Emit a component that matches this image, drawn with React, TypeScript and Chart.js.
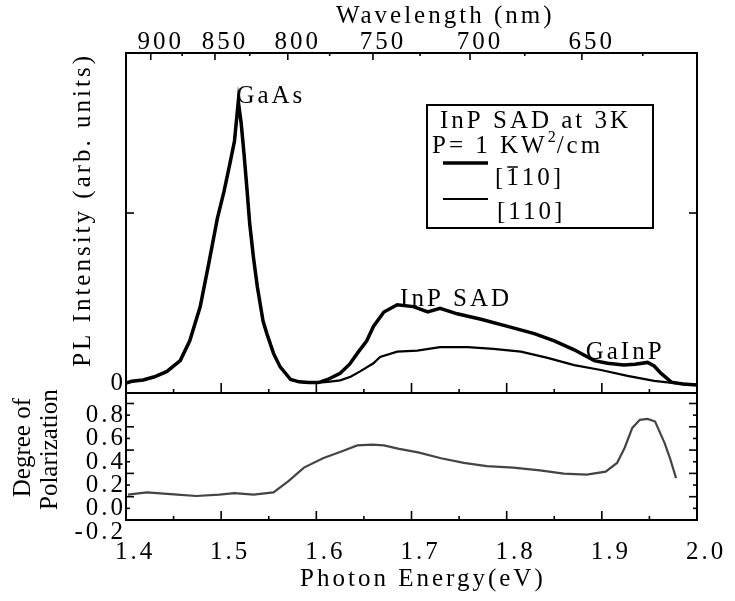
import React, { useEffect, useRef } from 'react';
import { Chart, registerables } from 'chart.js';

Chart.register(...registerables);

const FONT = '"Liberation Serif", "Times New Roman", serif';

// ---- PL spectra (photon energy in eV, intensity in arb. units) ----
// low-energy part common to both polarizations
const sharedEnergy = [1.400, 1.406, 1.418, 1.430, 1.443, 1.457, 1.467, 1.478, 1.487, 1.496, 1.503, 1.509, 1.514, 1.518, 1.521, 1.524, 1.527, 1.530, 1.534, 1.538, 1.544, 1.548, 1.555, 1.562, 1.573, 1.582, 1.592, 1.602];
const sharedIntensity = [0.055, 0.065, 0.072, 0.09, 0.12, 0.18, 0.29, 0.48, 0.72, 0.97, 1.12, 1.27, 1.40, 1.62, 1.50, 1.33, 1.14, 0.94, 0.75, 0.59, 0.40, 0.33, 0.22, 0.145, 0.075, 0.062, 0.058, 0.058];

// [-110] polarization (upper curve)
const barEnergy = [1.612, 1.625, 1.635, 1.643, 1.653, 1.660, 1.671, 1.685, 1.702, 1.717, 1.730, 1.748, 1.773, 1.801, 1.829, 1.850, 1.871, 1.892, 1.906, 1.923, 1.935, 1.948, 1.955, 1.962, 1.973, 1.985, 2.0];
const barIntensity = [0.075, 0.11, 0.16, 0.22, 0.29, 0.37, 0.45, 0.49, 0.48, 0.45, 0.47, 0.44, 0.41, 0.37, 0.33, 0.29, 0.24, 0.18, 0.165, 0.155, 0.16, 0.17, 0.15, 0.11, 0.06, 0.05, 0.045];

// [110] polarization (lower curve)
const parEnergy = [1.612, 1.625, 1.636, 1.646, 1.660, 1.667, 1.685, 1.706, 1.730, 1.759, 1.786, 1.815, 1.843, 1.871, 1.899, 1.927, 1.955, 1.976, 2.0];
const parIntensity = [0.062, 0.07, 0.09, 0.12, 0.165, 0.20, 0.23, 0.235, 0.255, 0.255, 0.245, 0.23, 0.195, 0.155, 0.128, 0.095, 0.067, 0.055, 0.045];

// ---- degree of polarization ----
const polEnergy = [1.402, 1.422, 1.454, 1.474, 1.498, 1.514, 1.534, 1.555, 1.571, 1.587, 1.607, 1.627, 1.643, 1.659, 1.671, 1.687, 1.707, 1.731, 1.755, 1.779, 1.807, 1.835, 1.860, 1.884, 1.904, 1.916, 1.924, 1.932, 1.940, 1.948, 1.956, 1.966, 1.972, 1.978];
const polValue = [0.017, 0.037, 0.017, 0.006, 0.017, 0.03, 0.017, 0.037, 0.136, 0.25, 0.33, 0.39, 0.44, 0.447, 0.44, 0.41, 0.38, 0.33, 0.29, 0.263, 0.25, 0.226, 0.198, 0.19, 0.215, 0.29, 0.42, 0.59, 0.66, 0.667, 0.645, 0.46, 0.32, 0.16];

// ---- axes ----
const energyTicks = [1.4, 1.5, 1.6, 1.7, 1.8, 1.9, 2.0];
const energyMinorTicks = [1.45, 1.55, 1.65, 1.75, 1.85, 1.95];
const wavelengthLabels = ['900', '850', '800', '750', '700', '650'];
const wavelengthTickEnergies = [1.426, 1.4935, 1.570, 1.6595, 1.7615, 1.879];
const wavelengthMinorTickEnergies = [1.459, 1.530, 1.614, 1.709, 1.819, 1.943];
const plTicks = [0, 1];
const polTicks = [-0.2, 0, 0.2, 0.4, 0.6, 0.8];
const polMinorTicks = [-0.1, 0.1, 0.3, 0.5, 0.7];

// ---- annotations ----
const peakNames = ['GaAs', 'InP SAD', 'GaInP'];
const peakNameEnergy = [1.516, 1.688, 1.883];
const peakNameIntensity = [1.65, 0.52, 0.228];

const toPoints = (xs: number[], ys: number[]) => xs.map((x, i) => ({ x, y: ys[i] }));

const sciPlugin = {
  id: 'sciFrame',
  beforeLayout(chart: any) {
    (chart.ctx as any).letterSpacing = '3px';
  },
  beforeDraw(chart: any) {
    (chart.ctx as any).letterSpacing = '3px';
  },
  afterDraw(chart: any) {
    const ctx = chart.ctx as any;
    const xs = chart.scales.x;
    const x2 = chart.scales.x2;
    const yPL = chart.scales.yPL;
    const yPol = chart.scales.yPol;
    const L = chart.chartArea.left;
    const R = chart.chartArea.right;
    ctx.save();
    ctx.letterSpacing = '3px';
    ctx.strokeStyle = '#000';
    ctx.fillStyle = '#000';
    const seg = (a: number, b: number, c: number, d: number, w = 1.6) => {
      ctx.lineWidth = w;
      ctx.beginPath();
      ctx.moveTo(a, b);
      ctx.lineTo(c, d);
      ctx.stroke();
    };
    // frames
    ctx.lineWidth = 2;
    ctx.strokeRect(L, yPL.top, R - L, yPL.bottom - yPL.top);
    ctx.strokeRect(L, yPol.top, R - L, yPol.bottom - yPol.top);
    // energy ticks (pointing inward)
    const inner = energyTicks.slice(1, -1);
    const xt = (vals: number[], yEdge: number, len: number) =>
      vals.forEach((v) => {
        const p = xs.getPixelForValue(v);
        seg(p, yEdge, p, yEdge + len);
      });
    xt(inner, yPL.bottom, -10);
    xt(energyMinorTicks, yPL.bottom, -4);
    xt(inner, yPol.bottom, -9);
    xt(energyMinorTicks, yPol.bottom, -4);
    // wavelength ticks
    wavelengthTickEnergies.forEach((v) => {
      const p = x2.getPixelForValue(v);
      seg(p, yPL.top, p, yPL.top + 7);
    });
    wavelengthMinorTickEnergies.forEach((v) => {
      const p = x2.getPixelForValue(v);
      seg(p, yPL.top, p, yPL.top + 3);
    });
    // y ticks
    const yt = (scale: any, vals: number[], len: number) =>
      vals.forEach((v) => {
        const p = scale.getPixelForValue(v);
        seg(L, p, L + len, p);
        seg(R, p, R - len, p);
      });
    yt(yPL, plTicks.filter((v) => v !== 0), 8);
    yt(yPol, polTicks.slice(1), 8);
    yt(yPol, polMinorTicks, 4);

    // text
    ctx.font = `25px ${FONT}`;
    ctx.textBaseline = 'middle';
    ctx.textAlign = 'left';
    peakNames.forEach((t, i) => {
      ctx.fillText(t, xs.getPixelForValue(peakNameEnergy[i]), yPL.getPixelForValue(peakNameIntensity[i]));
    });
    ctx.textAlign = 'center';
    ctx.fillText('Wavelength (nm)', L + 0.559 * (R - L), 16);
    ctx.fillText('Photon Energy(eV)', L + 0.52 * (R - L), 579);

    // bottom-panel axis title (rotated, two lines)
    ctx.save();
    ctx.letterSpacing = '0px';
    ctx.translate(23, yPol.top + 0.43 * (yPol.bottom - yPol.top));
    ctx.rotate(-Math.PI / 2);
    ctx.fillText('Degree of', 0, 0);
    ctx.fillText('Polarization', -2, 27);
    ctx.restore();

    // legend box
    const bx = L + 301;
    const by = yPL.top + 52;
    ctx.lineWidth = 2;
    ctx.strokeRect(bx, by, 226, 123);
    ctx.textAlign = 'left';
    ctx.fillText('InP SAD at 3K', bx + 13, by + 16);
    const p1 = 'P= 1 KW';
    ctx.fillText(p1, bx + 5, by + 41);
    let cx = bx + 5 + ctx.measureText(p1).width;
    ctx.font = `16px ${FONT}`;
    ctx.letterSpacing = '1px';
    ctx.fillText('2', cx, by + 33);
    cx += ctx.measureText('2').width;
    ctx.letterSpacing = '3px';
    ctx.font = `25px ${FONT}`;
    ctx.fillText('/cm', cx, by + 41);
    // sample lines
    seg(bx + 16, by + 58, bx + 61, by + 58, 3.5);
    seg(bx + 16, by + 94, bx + 61, by + 94, 2);
    // [1̄10]
    let tx = bx + 68;
    const ty = by + 73;
    ctx.fillText('[', tx, ty);
    tx += ctx.measureText('[').width;
    const oneW = ctx.measureText('1').width;
    ctx.fillText('1', tx, ty);
    seg(tx + 1, ty - 11, tx + oneW - 4, ty - 11, 1.5);
    tx += oneW;
    ctx.fillText('10]', tx, ty);
    ctx.fillText('[110]', bx + 70, by + 107);
    ctx.restore();
  },
};

const tickFont = { family: FONT, size: 25, lineHeight: 1 };

const fix = (w: number | null, h: number | null) => (scale: any) => {
  if (w !== null) scale.width = w;
  if (h !== null) scale.height = h;
  scale.paddingLeft = 0;
  scale.paddingRight = 0;
  scale.paddingTop = 0;
  scale.paddingBottom = 0;
};

export default function App() {
  const ref = useRef<HTMLCanvasElement | null>(null);
  useEffect(() => {
    if (!ref.current) return;
    const chart = new Chart(ref.current, {
      type: 'line',
      data: {
        datasets: [
          {
            label: '[-110]',
            data: toPoints(sharedEnergy.concat(barEnergy), sharedIntensity.concat(barIntensity)),
            borderColor: '#000',
            borderWidth: 3.5,
            yAxisID: 'yPL',
            xAxisID: 'x',
          },
          {
            label: '[110]',
            data: toPoints(sharedEnergy.concat(parEnergy), sharedIntensity.concat(parIntensity)),
            borderColor: '#000',
            borderWidth: 2.2,
            yAxisID: 'yPL',
            xAxisID: 'x',
          },
          {
            label: 'Degree of polarization',
            data: toPoints(polEnergy, polValue),
            borderColor: '#444',
            borderWidth: 2.2,
            yAxisID: 'yPol',
            xAxisID: 'x',
          },
        ],
      },
      options: {
        responsive: false,
        maintainAspectRatio: false,
        devicePixelRatio: 1,
        animation: false,
        elements: { point: { radius: 0 }, line: { tension: 0 } },
        layout: { padding: { left: 0, right: 38, top: 0, bottom: 0 } },
        plugins: { legend: { display: false }, tooltip: { enabled: false } },
        scales: {
          x: {
            type: 'linear',
            position: 'bottom',
            min: 1.4,
            max: 2.0,
            afterBuildTicks: (s: any) => {
              s.ticks = energyTicks.map((v) => ({ value: v }));
            },
            afterFit: fix(null, 81),
            grid: { display: false, drawTicks: false },
            border: { display: false },
            ticks: {
              autoSkip: false,
              maxRotation: 0,
              minRotation: 0,
              padding: 20,
              labelOffset: 9,
              color: '#000',
              font: tickFont,
              callback: (v: any) => Number(v).toFixed(1),
            },
          },
          x2: {
            type: 'linear',
            position: 'top',
            min: 1.4,
            max: 2.0,
            afterBuildTicks: (s: any) => {
              s.ticks = wavelengthTickEnergies.map((v) => ({ value: v }));
            },
            afterFit: fix(null, 53),
            grid: { display: false, drawTicks: false },
            border: { display: false },
            ticks: {
              autoSkip: false,
              maxRotation: 0,
              minRotation: 0,
              padding: -2,
              labelOffset: 10,
              color: '#000',
              font: tickFont,
              callback: (v: any) => {
                const i = wavelengthTickEnergies.indexOf(Number(v));
                return i >= 0 ? wavelengthLabels[i] : '';
              },
            },
          },
          yPL: {
            type: 'linear',
            position: 'left',
            stack: 'panels',
            stackWeight: 340,
            weight: 2,
            min: 0,
            max: 1.889,
            afterBuildTicks: (s: any) => {
              s.ticks = plTicks.map((v) => ({ value: v }));
            },
            afterFit: fix(126, null),
            grid: { display: false, drawTicks: false },
            border: { display: false },
            ticks: {
              autoSkip: false,
              padding: 0,
              labelOffset: -10,
              color: '#000',
              font: tickFont,
              callback: (v: any) => (Number(v) === 0 ? '0' : ''),
            },
            title: {
              display: true,
              text: 'PL Intensity (arb. units)',
              align: 'end',
              color: '#000',
              font: { family: FONT, size: 25, lineHeight: 1.2 },
              padding: { top: 68, bottom: 0 },
            },
          },
          yPol: {
            type: 'linear',
            position: 'left',
            stack: 'panels',
            stackWeight: 127,
            weight: 1,
            min: -0.2,
            max: 0.89,
            afterBuildTicks: (s: any) => {
              s.ticks = polTicks.map((v) => ({ value: v }));
            },
            afterFit: fix(126, null),
            grid: { display: false, drawTicks: false },
            border: { display: false },
            ticks: {
              autoSkip: false,
              padding: 0,
              labelOffset: 12,
              color: '#000',
              font: tickFont,
              callback: (v: any) => Number(v).toFixed(1),
            },
          },
        },
      } as any,
      plugins: [sciPlugin],
    });
    return () => chart.destroy();
  }, []);

  return (
    <div style={{ position: 'fixed', left: 0, top: 0, width: 735, height: 601, background: '#fff' }}>
      <canvas ref={ref} width={735} height={601} style={{ display: 'block', width: 735, height: 601 }} />
    </div>
  );
}
